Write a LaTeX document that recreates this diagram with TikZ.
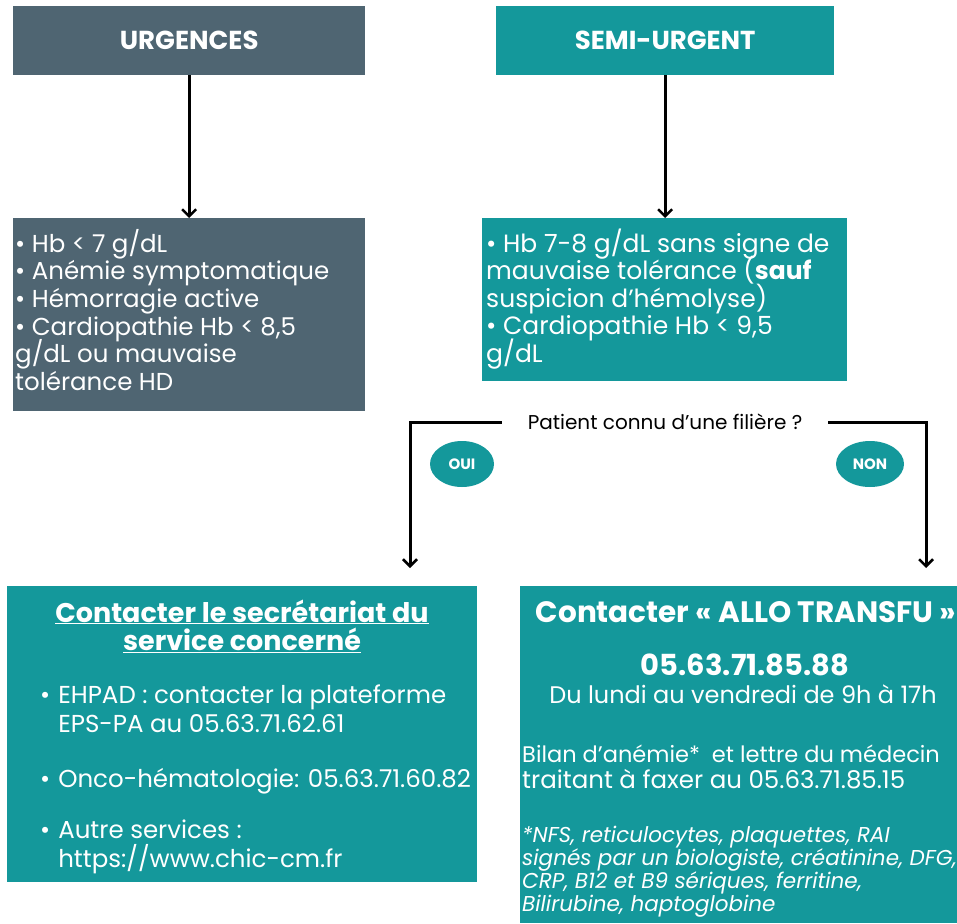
\documentclass[tikz,border=0pt]{standalone}
\usepackage{fontspec}
\setmainfont{Poppins}
\usetikzlibrary{arrows.meta,shapes.geometric}
\definecolor{slatebox}{RGB}{79,101,114}
\definecolor{tealbox}{RGB}{20,152,155}
\newcommand\Lrows[2]{\vtop{\baselineskip=#1\lineskiplimit=-\maxdimen\lineskip=0pt\halign{##\hfil\cr#2\crcr}}}
\newcommand\Crows[2]{\vtop{\baselineskip=#1\lineskiplimit=-\maxdimen\lineskip=0pt\halign{\hfil##\hfil\cr#2\crcr}}}
\newcommand\Brows[2]{\vtop{\baselineskip=#1\lineskiplimit=-\maxdimen\lineskip=0pt\halign{##\hskip 8pt&##\hfil\cr#2\crcr}}}
\begin{document}
\begin{tikzpicture}[x=1pt,y=-1pt,
  box/.style={draw=none, inner sep=0pt, anchor=north west},
  hdr/.style={text=white, font=\bfseries\fontsize{26}{28}\selectfont, inner sep=0pt},
  txt/.style={text=white, inner sep=0pt, anchor=base west},
  arr/.style={draw=black, line width=3pt, -{Straight Barb[length=7pt,width=14pt,line width=2.5pt]}},
  yn/.style={ellipse, fill=tealbox, text=white, inner sep=0pt, font=\bfseries\fontsize{15}{17}\selectfont}]
\useasboundingbox (0,0) rectangle (957,923);
\fill[white] (0,0) rectangle (957,923);

% headers
\node[box, fill=slatebox, minimum width=352pt, minimum height=69pt] (urg) at (13,6) {};
\node[hdr] (urgT) at (urg.center) {URGENCES};
\node[box, fill=tealbox, minimum width=338pt, minimum height=69pt] (semi) at (496,6) {};
\node[hdr] (semiT) at (semi.center) {SEMI-URGENT};

% lists
\node[box, fill=slatebox, minimum width=352pt, minimum height=193pt] (urgl) at (13,218) {};
\node[txt, font=\fontsize{24.5}{27.7}\selectfont] (urglT) at (15,252) {\Lrows{27.7pt}{
• Hb < 7 g/dL\cr
• Anémie symptomatique\cr
• Hémorragie active\cr
• Cardiopathie Hb < 8,5\cr
g/dL ou mauvaise\cr
tolérance HD}};

\node[box, fill=tealbox, minimum width=365pt, minimum height=163pt] (semil) at (482,218) {};
\node[txt, font=\fontsize{25}{27.5}\selectfont] (semilT) at (486,252) {\Lrows{27.5pt}{
• Hb 7-8 g/dL sans signe de\cr
mauvaise tolérance (\textbf{sauf}\cr
suspicion d’hémolyse)\cr
• Cardiopathie Hb < 9,5\cr
g/dL}};

\draw[arr] (urg.south) -- (urgl.north -| urg.south);
\draw[arr] (semi.south) -- (semil.north -| semi.south);

% question
\node[inner xsep=26pt, inner ysep=2pt, font=\fontsize{20}{22}\selectfont] (q) at (665,422) {Patient connu d’une filière ?};
\coordinate (la) at (410,568);
\coordinate (ra) at (926,568);
\draw[arr] (q.west) -| (la);
\draw[arr] (q.east) -| (ra);
\node[yn, minimum width=64pt, minimum height=46pt] (oui) at (462,464) {OUI};
\node[yn, minimum width=68pt, minimum height=46pt] (non) at (870,464) {NON};

% bottom left
\node[box, fill=tealbox, minimum width=470pt, minimum height=296pt] (secr) at (7,586) {};
\node[txt, anchor=base, font=\bfseries\fontsize{27}{28.5}\selectfont] (secrT) at (242,622) {\Crows{28.5pt}{
\underline{Contacter le secrétariat du}\cr
\underline{service concerné}}};
\node[txt, font=\fontsize{24.5}{29}\selectfont] (secrL) at (40,703) {\Brows{29pt}{
•& EHPAD : contacter la plateforme\cr
 & EPS-PA au 05.63.71.62.61\cr
\noalign{\vskip 26pt}
•& Onco-hématologie: 05.63.71.60.82\cr
\noalign{\vskip 22pt}
•& Autre services :\cr
 & https://www.chic-cm.fr}};

% bottom right
\node[box, fill=tealbox, minimum width=437pt, minimum height=337pt] (allo) at (520,586) {};
\node[txt, anchor=base, font=\bfseries\fontsize{29.5}{31}\selectfont] (alloT) at (746,622) {Contacter « ALLO TRANSFU »};
\node[txt, anchor=base, font=\bfseries\fontsize{29}{31}\selectfont] (alloP) at (745,675) {05.63.71.85.88};
\node[txt, anchor=base, font=\fontsize{24}{26}\selectfont] (alloH) at (743,703) {Du lundi au vendredi de 9h à 17h};
\node[txt, font=\fontsize{24.5}{26}\selectfont] (alloB) at (522,762) {\Lrows{26pt}{
{\fontsize{22.5}{26}\selectfont Bilan d’anémie*\ \ et lettre du médecin}\cr
traitant à faxer au 05.63.71.85.15}};
\node[txt, font=\itshape\fontsize{21.5}{22.7}\selectfont] (alloN) at (522,842) {\Lrows{23pt}{
*NFS, reticulocytes, plaquettes, RAI\cr
signés par un biologiste, créatinine, DFG,\cr
CRP, B12 et B9 sériques, ferritine,\cr
Bilirubine, haptoglobine}};
\end{tikzpicture}
\end{document}
